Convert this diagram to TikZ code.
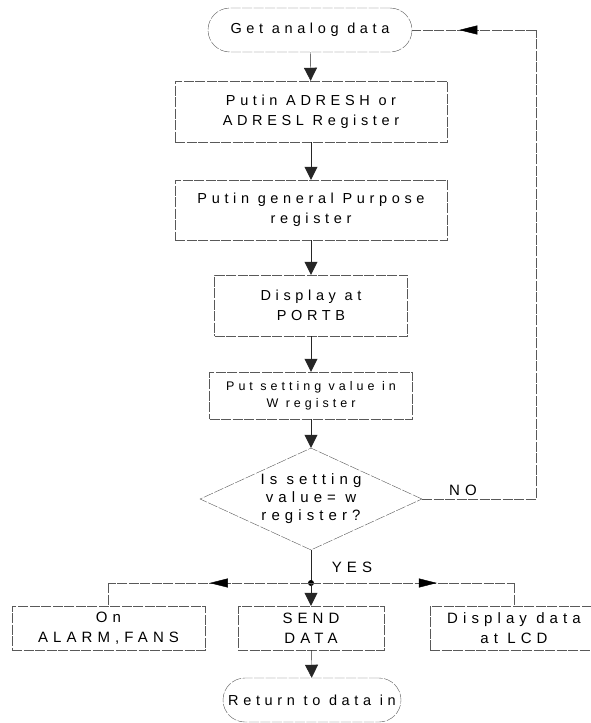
\documentclass[tikz,border=0pt]{standalone}
\usepackage{fontspec}
\setmainfont{Liberation Sans}[LetterSpace=32]
\newfontfamily\widefont{Liberation Sans}[LetterSpace=34]
\usetikzlibrary{shapes.geometric,arrows.meta,decorations.markings}
\newcommand\flowfont{\fontsize{14.5}{20}\selectfont}
\newcommand\smallflow{\fontsize{12.5}{17}\selectfont}
\newcommand\outfont{\widefont\fontsize{15}{20}\selectfont}
\tikzset{
  box/.style={draw=black!65, thin, dash pattern=on 10pt off 1.5pt, align=center, inner sep=0pt, font=\flowfont},
  outbox/.style={box, font=\outfont, minimum height=44pt},
  term/.style={box, rounded corners=22pt},
  decide/.style={box, diamond, aspect=2.2, font=\outfont, minimum width=222pt, minimum height=102pt},
  flow/.style={draw=black!85, thin, -{Triangle[length=13pt,width=13pt]}},
  link/.style={draw=black!65, thin, dash pattern=on 10pt off 1.5pt},
  midarrow/.style={postaction={decorate}, decoration={markings,
      mark=at position #1 with {\arrow[solid,black]{Triangle[length=18pt,width=9pt]}}}},
}
\begin{document}
\begin{tikzpicture}[x=1pt,y=-1pt]
\useasboundingbox (0,0) rectangle (591,723);
% main column
\node [term, minimum width=204pt, minimum height=44pt] (start) at (310,30) {Get analog data};
\node [box, minimum width=272pt, minimum height=61pt] (adc) at (311,111.5) {Putin ADRESH or\\ADRESL Register};
\node [box, minimum width=272pt, minimum height=60pt] (gpr) at (311,210) {Putin general Purpose\\register};
\node [box, minimum width=193pt, minimum height=61pt] (portb) at (311,305.5) {Display at\\PORTB};
\node [box, font=\smallflow, minimum width=203pt, minimum height=47pt] (wreg) at (311,395.5) {Put setting value in\\W register};
\node [decide] (check) at (311,499) {Is setting\\[-2pt]value= w\\[-2pt]register?};
% outputs
\node [outbox, minimum width=193pt] (alarm) at (108.5,628) {On\\ALARM,FANS};
\node [outbox, minimum width=146pt] (send) at (311,628) {SEND\\DATA};
\node [outbox, minimum width=168pt] (lcd) at (514,628) {Display data\\at LCD};
\node [term, minimum width=178pt, minimum height=44pt] (return) at (312,700) {Return to data in};
% labels
\node [font=\outfont] (no) at (463,490) {NO};
\node [font=\outfont] (yes) at (352,567) {YES};
% corners
\coordinate (split) at (311,583);
\coordinate (lcorner) at (108.5,583);
\coordinate (rcorner) at (514,583);
\coordinate (nocorner) at (536,499);
\coordinate (topcorner) at (536,30);
% connectors
\draw [flow] (start) -- (adc);
\draw [flow] (adc) -- (gpr);
\draw [flow] (gpr) -- (portb);
\draw [flow] (portb) -- (wreg);
\draw [flow] (wreg) -- (check);
\draw [draw=black!85, thin] (check.south) -- (split);
\fill (split) circle (3pt);
\draw [flow] (split) -- (send);
\draw [link, midarrow=0.5] (split) -- (lcorner);
\draw [link] (lcorner) -- (alarm);
\draw [link, midarrow=0.62] (split) -- (rcorner);
\draw [link] (rcorner) -- (lcd);
\draw [flow] (send) -- (return);
\draw [link] (check.east) -- (nocorner) -- (topcorner);
\draw [link, midarrow=0.62] (topcorner) -- (start.east);
\end{tikzpicture}
\end{document}
